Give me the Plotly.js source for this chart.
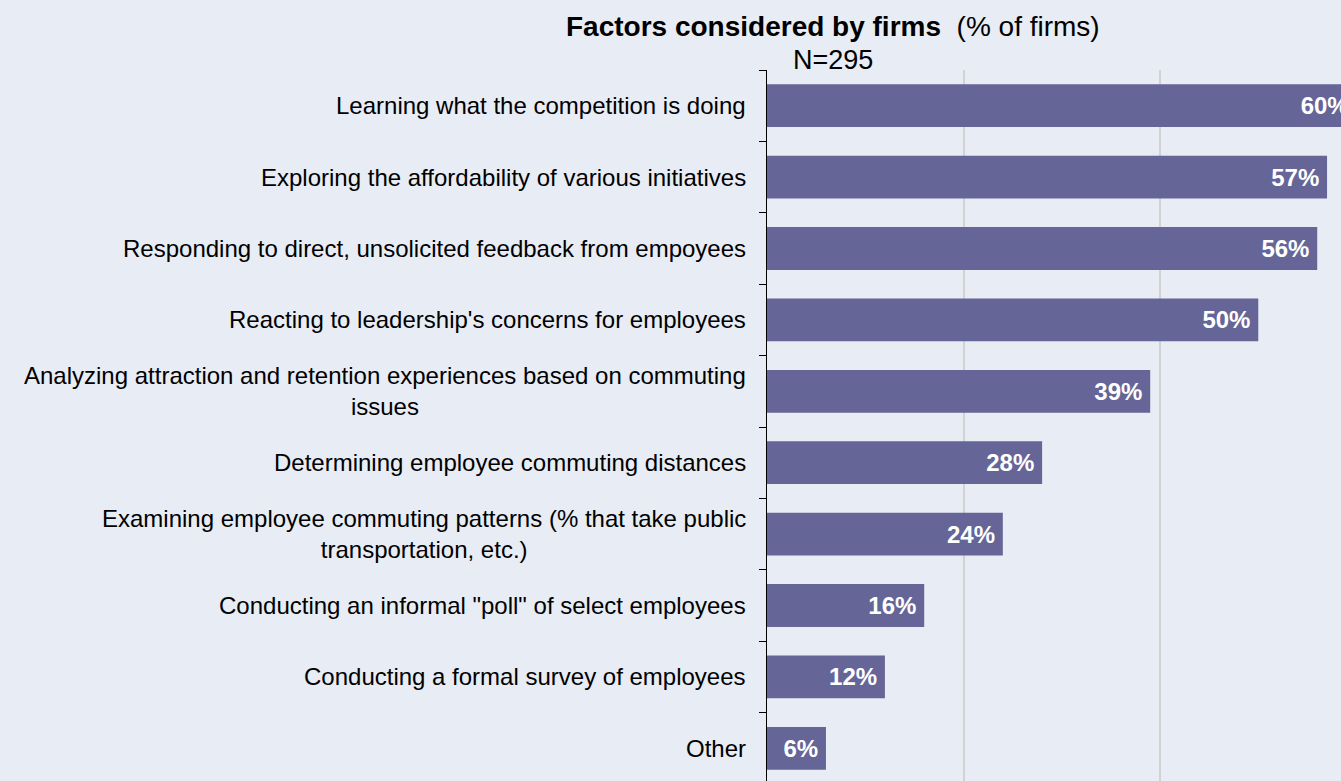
<!DOCTYPE html>
<html>
<head>
<meta charset="utf-8">
<script src="https://cdn.plot.ly/plotly-3.0.1.min.js"></script>
<style>
  html, body { margin: 0; padding: 0; background: #E8ECF4; }
  #chart { width: 1341px; height: 781px; }
</style>
</head>
<body>
<div id="chart"></div>
<script>
const categories = [
  "Learning what the competition is doing",
  "Exploring the affordability of various initiatives",
  "Responding to direct, unsolicited feedback from empoyees",
  "Reacting to leadership's concerns for employees",
  "Analyzing attraction and retention experiences based on commuting<br>issues",
  "Determining employee commuting distances",
  "Examining employee commuting patterns (% that take public<br>transportation, etc.)",
  "Conducting an informal \"poll\" of select employees",
  "Conducting a formal survey of employees",
  "Other"
];
const values = [60, 57, 56, 50, 39, 28, 24, 16, 12, 6];
const titleMain = "Factors considered by firms";
const titleSub = "(% of firms)";
const sampleNote = "N=295";

const FONT = "Liberation Sans, Arial, sans-serif";
const catIds = categories.map((c, i) => "c" + i);

// plot area spans x 767..1341 px; title block centred near x = 833 px
const titleX = (833 - 767) / (1341 - 767);

const trace = {
  type: "bar",
  orientation: "h",
  y: catIds,
  x: values,
  width: 0.6,
  marker: { color: "#656597", line: { width: 0 } },
  texttemplate: "%{x}%\u2009",
  textposition: "inside",
  insidetextanchor: "end",
  textangle: 0,
  insidetextfont: { family: FONT, size: 24, color: "#ffffff", weight: "bold" },
  hoverinfo: "none",
  cliponaxis: true
};

const annotations = categories.map((c, i) => ({
  xref: "paper", yref: "y", x: 0, y: catIds[i],
  xanchor: "right", yanchor: "middle", xshift: -19,
  align: "center", showarrow: false,
  text: c,
  font: { family: FONT, size: 24, color: "#000000" }
}));
annotations.push({
  xref: "paper", yref: "paper", x: titleX, y: 1, yshift: 70 - 26,
  xanchor: "center", yanchor: "middle", showarrow: false,
  text: "<b>" + titleMain + "</b>  " + titleSub,
  font: { family: FONT, size: 28, color: "#000000" }
});
annotations.push({
  xref: "paper", yref: "paper", x: titleX, y: 1, yshift: 70 - 60,
  xanchor: "center", yanchor: "middle", showarrow: false,
  text: sampleNote,
  font: { family: FONT, size: 27, color: "#000000" }
});

const layout = {
  width: 1341, height: 781,
  margin: { l: 767, r: 0, t: 70, b: 0, pad: 0 },
  paper_bgcolor: "#E8ECF4",
  plot_bgcolor: "#E8ECF4",
  showlegend: false,
  bargap: 0.4,
  xaxis: {
    range: [0, 58.42], autorange: false,
    dtick: 20, tick0: 0,
    showgrid: true, gridcolor: "#D2D2D2", gridwidth: 2,
    zeroline: false, showticklabels: false, ticks: "", showline: false,
    fixedrange: true
  },
  yaxis: {
    type: "category",
    range: [9.458, -0.5], autorange: false,
    showticklabels: false,
    ticks: "outside", tickson: "boundaries", ticklen: 7, tickwidth: 1, tickcolor: "#000000",
    showline: true, linecolor: "#000000", linewidth: 1,
    showgrid: false, zeroline: false, fixedrange: true
  },
  annotations: annotations
};

Plotly.newPlot("chart", [trace], layout, { displayModeBar: false, staticPlot: true });
</script>
</body>
</html>
